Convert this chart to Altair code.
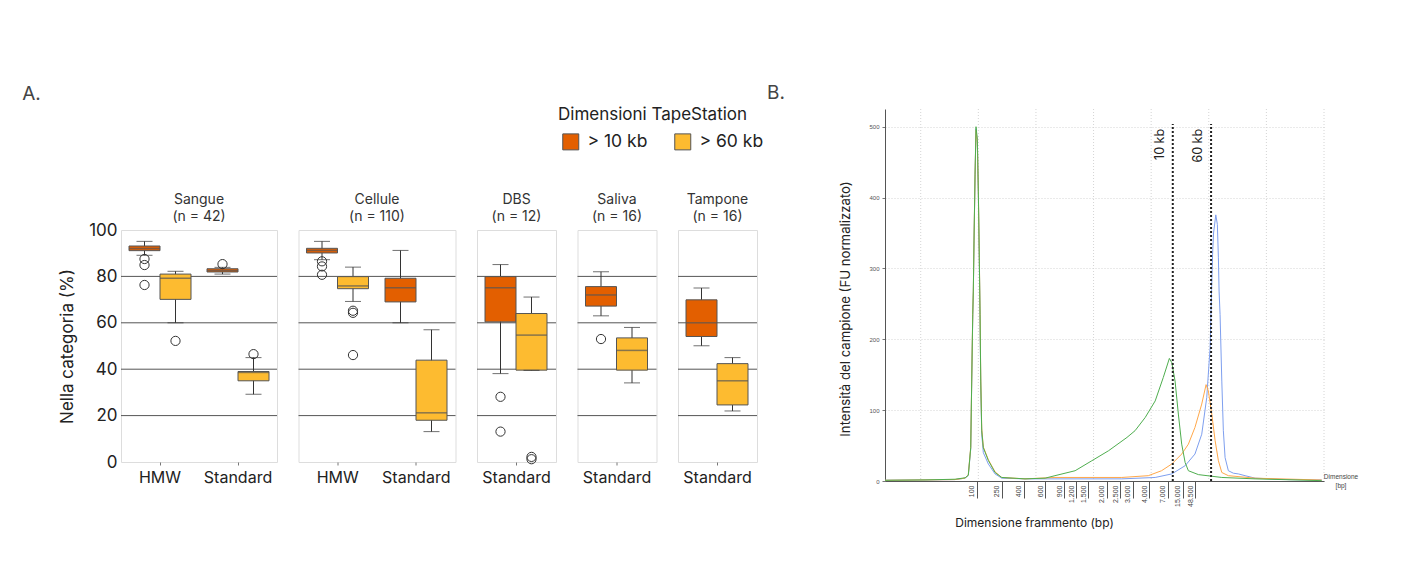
import json
import altair as alt
import pandas as pd

# ---------------- Panel A : box plots ----------------
SIZES = ["> 10 kb", "> 60 kb"]
SIZE_COLORS = ["#E35F00", "#FDBB30"]

sites = ["Sangue", "Cellule", "DBS", "Saliva", "Tampone"]
site_n = ["(n = 42)", "(n = 110)", "(n = 12)", "(n = 16)", "(n = 16)"]
site_methods = [["HMW", "Standard"], ["HMW", "Standard"], ["Standard"], ["Standard"], ["Standard"]]
panel_w = [156, 157, 79, 79, 79]
BOX_W = 31

box_site = ["Sangue"] * 4 + ["Cellule"] * 4 + ["DBS"] * 2 + ["Saliva"] * 2 + ["Tampone"] * 2
box_method = ["HMW", "HMW", "Standard", "Standard"] * 2 + ["Standard"] * 6
box_size = ["> 10 kb", "> 60 kb"] * 7
box_lo = [89.1, 60.0, 81.0, 29.2, 87.2, 69.2, 60.0, 13.1, 38.1, 39.5, 63.0, 34.1, 50.1, 22.0]
box_q1 = [91.1, 70.1, 81.9, 35.0, 90.1, 74.7, 69.0, 18.0, 60.4, 39.6, 67.2, 39.6, 54.1, 24.6]
box_med = [92.0, 79.2, 82.5, 38.6, 91.2, 75.9, 75.1, 21.2, 75.1, 54.7, 72.0, 48.1, 60.0, 35.0]
box_q3 = [93.1, 81.0, 83.3, 39.0, 92.1, 79.9, 79.2, 43.9, 79.9, 64.0, 75.6, 53.5, 69.9, 42.4]
box_hi = [95.1, 82.2, 83.9, 45.0, 95.1, 84.0, 91.2, 57.0, 85.1, 71.1, 82.0, 58.0, 75.0, 45.0]

out_site = ["Sangue"] * 6 + ["Cellule"] * 6 + ["DBS"] * 4 + ["Saliva"]
out_method = ["HMW"] * 4 + ["Standard"] * 2 + ["HMW"] * 6 + ["Standard"] * 5
out_size = (["> 10 kb"] * 3 + ["> 60 kb", "> 10 kb", "> 60 kb"]
            + ["> 10 kb"] * 3 + ["> 60 kb"] * 3
            + ["> 10 kb"] * 2 + ["> 60 kb"] * 2 + ["> 10 kb"])
out_value = [87.5, 84.9, 76.3, 52.2, 85.3, 46.5,
             86.5, 84.3, 80.7, 65.2, 64.3, 46.1,
             28.1, 13.1, 2.2, 1.2, 53.0]

grid_y = [20, 40, 60, 80]
y_ticks = [0, 20, 40, 60, 80, 100]

boxes = pd.DataFrame(dict(site=box_site, method=box_method, size=box_size, lo=box_lo,
                          q1=box_q1, med=box_med, q3=box_q3, hi=box_hi))
outs = pd.DataFrame(dict(site=out_site, method=out_method, size=out_size, value=out_value))
grid_df = pd.DataFrame({"g": grid_y})

FONT = "Inter"
TXT = "#222222"

legend = alt.Legend(
    title="Dimensioni TapeStation", orient="none", legendX=437, legendY=-2,
    direction="horizontal", symbolType="square", symbolSize=256,
    symbolStrokeColor="#555555", symbolStrokeWidth=1, symbolOffset=4,
    labelFontSize=17.5, labelFont=FONT, labelColor=TXT, labelOffset=8,
    titleFontSize=17, titleFont=FONT, titleFontWeight="normal", titleColor=TXT,
    titlePadding=9, columnPadding=22, titleLimit=400, labelLimit=200,
)


def panel(i):
    site = sites[i]
    methods = site_methods[i]
    w = panel_w[i]
    band = w / len(methods)
    po = (band / BOX_W - 2) / 2
    b = boxes[boxes.site == site]
    o = outs[outs.site == site]
    xenc = alt.X("method:N", sort=methods,
                 scale=alt.Scale(domain=methods, paddingInner=0, paddingOuter=0),
                 axis=alt.Axis(title=None, labelAngle=0, labelFontSize=16, labelFont=FONT,
                               labelColor=TXT, labelPadding=4.5, tickSize=3, tickColor="#777777",
                               domain=False, grid=False))
    xo = alt.XOffset("size:N", scale=alt.Scale(domain=SIZES, paddingInner=0, paddingOuter=po))
    if i == 0:
        yaxis = alt.Axis(values=y_ticks, title="Nella categoria (%)", titleFontSize=17,
                         titleFont=FONT, titleFontWeight="normal", titleColor=TXT, titlePadding=12,
                         labelFontSize=17, labelFont=FONT, labelColor=TXT, labelPadding=4,
                         ticks=False, domain=False, grid=False)
        title_offset = -2.5
    else:
        yaxis = None
        title_offset = 6
    ys = alt.Scale(domain=[0, 100], nice=False)

    layers = [
        alt.Chart(grid_df).mark_rule(color="#555555", strokeWidth=1).encode(
            y=alt.Y("g:Q", scale=ys, axis=yaxis)),
        alt.Chart(b).mark_rule(color="#333333", strokeWidth=1).encode(
            x=xenc, xOffset=xo, y=alt.Y("lo:Q", scale=ys, axis=yaxis), y2="hi:Q"),
        alt.Chart(b).mark_bar(stroke="#555555", strokeWidth=1).encode(
            x=xenc, xOffset=xo, y=alt.Y("q1:Q", scale=ys, axis=yaxis), y2="q3:Q",
            color=alt.Color("size:N", scale=alt.Scale(domain=SIZES, range=SIZE_COLORS),
                            legend=legend)),
        alt.Chart(b).mark_tick(color="#555555", size=BOX_W, thickness=1.5).encode(
            x=xenc, xOffset=xo, y=alt.Y("med:Q", scale=ys, axis=yaxis)),
        alt.Chart(b).mark_tick(color="#333333", size=16, thickness=1).encode(
            x=xenc, xOffset=xo, y=alt.Y("lo:Q", scale=ys, axis=yaxis)),
        alt.Chart(b).mark_tick(color="#333333", size=16, thickness=1).encode(
            x=xenc, xOffset=xo, y=alt.Y("hi:Q", scale=ys, axis=yaxis)),
    ]
    if len(o):
        layers.append(
            alt.Chart(o).mark_point(shape="circle", size=85, filled=False, color="#333333",
                                    strokeWidth=1, opacity=1).encode(
                x=xenc, xOffset=xo, y=alt.Y("value:Q", scale=ys, axis=yaxis)))
    return alt.layer(*layers).properties(
        width=w, height=232,
        title=alt.TitleParams(text=[site, site_n[i]], fontSize=14, font=FONT, frame="group",
                              fontWeight="normal", color="#333333", offset=title_offset,
                              lineHeight=17),
    )


panels = alt.hconcat(*[panel(i) for i in range(5)], spacing=21.5, bounds="flush")

# empty spacer above the panels (room for the legend, aligns panel A with panel B)
spacer = alt.Chart(pd.DataFrame({"s": [0]})).mark_point(opacity=0).encode(
    x=alt.value(0), y=alt.value(0)).properties(
    width=10, height=100, view=alt.ViewBackground(stroke="transparent"))

left = alt.vconcat(spacer, panels, spacing=21, bounds="flush",
                   title=alt.TitleParams("A.", anchor="start", frame="bounds", fontSize=19,
                                         font=FONT, fontWeight="normal", color="#444444",
                                         dx=-36, offset=2))

# ---------------- Panel B : electropherogram ----------------
grid_x = [0, 10, 20, 30, 40, 50, 60, 70]
fu_ticks = [0, 100, 200, 300, 400, 500]
ladder_bp = ["100", "250", "400", "600", "900", "1.200", "1.500", "2.000", "2.500",
             "3.000", "4.000", "7.000", "15.000", "48.500"]
ladder_pos = [9.72, 14.06, 17.88, 21.58, 24.93, 26.96, 29.05, 32.29, 34.6, 36.8,
              39.69, 42.88, 45.49, 47.62]

marker_label = ["10 kb", "60 kb"]
marker_pos = [43.75, 50.4]
marker_top = [504, 504]

mk_pos = [-6.2, 0.75, 5.95, 7.7, 8.26, 8.68, 8.85, 9.03, 9.13, 9.25, 9.43, 9.6, 9.83,
          10.0, 10.17, 10.3, 10.42, 10.59, 10.87, 11.74, 12.9, 14.06, 18.1]
mk_fu_blue = [1, 1.5, 2, 4, 8, 45, 138, 230, 265, 335, 430, 497, 478, 405, 310, 230,
              135, 66, 40, 24, 10, 4, 3]
mk_fu_orange = [1, 1.5, 2, 4, 9, 48, 142, 236, 268, 338, 432, 495, 478, 410, 318, 238,
                 145, 74, 48, 30, 13, 5, 3]
mk_fu_green = [1, 1.5, 2.5, 4.5, 8, 47, 141, 235, 268, 339, 433, 500, 482, 409, 315, 235,
                141, 71, 47, 29, 12, 5, 3]

green_pos = [21.6, 23.3, 26.8, 29.7, 32.6, 35.8, 37.2, 38.97, 40.7, 42.1, 43.16, 43.58,
             44.15, 44.72, 45.3, 45.9, 46.46, 48.2, 52.26, 58.04, 69.6]
green_fu = [4, 7.5, 14.5, 28.6, 42.7, 61.5, 71, 89.7, 113, 146, 173, 167, 141, 94.5, 52,
            26, 14.5, 9, 5, 3, 0.5]
orange_pos = [23.3, 34.9, 39.5, 41.8, 43.58, 45.3, 46.46, 47.6, 48.78, 49.53, 49.93,
              50.52, 51.1, 51.67, 52.26, 53.4, 58.04, 69.6]
orange_fu = [5, 5, 7.5, 14.5, 24, 38, 52, 75.6, 108.6, 136, 127, 94.5, 57, 28.6, 12, 7.5,
             4, 1.4]
blue_pos = [23.3, 34.9, 40.7, 43.58, 45.9, 47.6, 48.78, 49.65, 50.23, 50.49, 50.66, 50.83,
            51.22, 51.49, 51.67, 51.79, 51.96, 52.26, 52.53, 52.83, 53.4, 54.27, 55.14,
            56.3, 58.04, 63.77, 69.6]
blue_fu = [3, 3, 5, 10, 21.6, 38, 66, 118, 188, 270, 320, 350, 375.6, 362, 315, 268, 235,
           141, 71, 33, 14.5, 11, 10, 7.5, 4, 2, 1.5]

SERIES = ["blu", "arancione", "verde"]
SERIES_COLORS = ["#7E9FEF", "#FFA84A", "#4FAE4F"]

rows = []
for name, mfu, pos, fu in [("blu", mk_fu_blue, blue_pos, blue_fu),
                           ("arancione", mk_fu_orange, orange_pos, orange_fu),
                           ("verde", mk_fu_green, green_pos, green_fu)]:
    for p, v in zip(mk_pos + pos, mfu + fu):
        rows.append({"series": name, "pos": p, "fu": v})
curves = pd.DataFrame(rows)
gridx_df = pd.DataFrame({"g": grid_x})
markers = pd.DataFrame({"label": marker_label, "pos": marker_pos, "lo": [0, 0], "hi": marker_top})

W2, H2 = 439, 372
xs = alt.Scale(domain=[-6.2, 70], nice=False, zero=False)
ys2 = alt.Scale(domain=[0, 525], nice=False)
label_expr = f"{json.dumps(ladder_bp)}[indexof({json.dumps(ladder_pos)}, datum.value)]"

xaxis = alt.Axis(values=ladder_pos, labelExpr=label_expr, labelAngle=270, labelFontSize=7,
                 labelFont="Liberation Sans", labelColor="#444444", labelPadding=-13,
                 labelAlign="right", labelBaseline="middle", labelOffset=-5,
                 labelOverlap=False, labelFlush=False, labelBound=False,
                 tickSize=17, tickColor="#555555", domainColor="#555555", grid=False,
                 title="Dimensione frammento (bp)", titleFontSize=12, titleFont=FONT,
                 titleFontWeight="normal", titleColor=TXT, titleX=149, titleY=41,
                 titleBaseline="middle", titleAlign="center")
yaxis2 = alt.Axis(values=fu_ticks, labelFontSize=6, labelFont="Liberation Sans",
                  labelColor="#555555", labelPadding=3, tickSize=3, tickColor="#777777",
                  domainColor="#555555", grid=True, gridColor="#d4d4d4", gridDash=[1, 2],
                  title="Intensità del campione (FU normalizzato)", titleFontSize=13.2,
                  titleFont=FONT, titleFontWeight="normal", titleColor=TXT, titleX=-40,
                  titleY=199.5, titleAngle=270, titleAlign="center", titleBaseline="middle")

vgrid = alt.Chart(gridx_df).mark_rule(color="#d4d4d4", strokeDash=[1, 2], strokeWidth=1).encode(
    x=alt.X("g:Q", scale=xs, axis=xaxis))
lines = alt.Chart(curves).mark_line(strokeWidth=1).encode(
    x=alt.X("pos:Q", scale=xs, axis=xaxis),
    y=alt.Y("fu:Q", scale=ys2, axis=yaxis2),
    color=alt.Color("series:N", scale=alt.Scale(domain=SERIES, range=SERIES_COLORS), legend=None),
)
mrules = alt.Chart(markers).mark_rule(color="#222222", strokeDash=[2, 2], strokeWidth=2).encode(
    x=alt.X("pos:Q", scale=xs, axis=xaxis), y=alt.Y("lo:Q", scale=ys2, axis=yaxis2), y2="hi:Q")
mtext = alt.Chart(markers).mark_text(angle=270, align="right", baseline="middle", dy=-13, dx=-5,
                                     fontSize=12.5, font=FONT, color=TXT).encode(
    x=alt.X("pos:Q", scale=xs, axis=xaxis), y=alt.Y("hi:Q", scale=ys2, axis=yaxis2), text="label:N")
endlabel = alt.Chart(markers.head(1)).mark_text(align="center", baseline="top", fontSize=6.5,
                                                font="Liberation Sans", color="#444444",
                                                lineHeight=9).encode(
    x=alt.value(456), y=alt.value(365), text=alt.value(["Dimensione", "[bp]"]))

right = alt.layer(vgrid, lines, mrules, mtext, endlabel).properties(
    width=W2, height=H2, view=alt.ViewBackground(stroke="transparent"),
    title=alt.TitleParams("B.", anchor="start", frame="bounds", fontSize=19, font=FONT,
                          fontWeight="normal", color="#444444", dx=-71, offset=6),
)

chart = (
    alt.hconcat(left, right, spacing=2)
    .resolve_scale(color="independent")
    .properties(padding={"left": 14, "top": 75, "right": 5, "bottom": 5})
    .configure_view(stroke="#999999", strokeWidth=1.2)
    .configure(font=FONT)
)

chart.save("out.html", embed_options={"renderer": "svg", "actions": False})
